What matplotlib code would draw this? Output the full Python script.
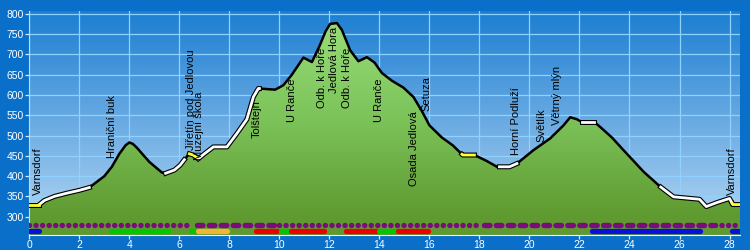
import matplotlib
matplotlib.use("Agg")
import matplotlib.pyplot as plt
import numpy as np
from matplotlib.colors import LinearSegmentedColormap

# elevation profile (km, m)
km = [0.0, 0.4, 0.6, 1.0, 1.5, 2.0, 2.4, 3.0, 3.3, 3.6, 3.85, 4.0, 4.15, 4.3, 4.8, 5.3, 5.45,
      5.8, 6.03, 6.23, 6.4, 6.55, 6.76, 7.0, 7.36, 7.9, 8.3, 8.7, 8.96, 9.16, 9.83,
      10.16, 10.5, 10.96, 11.3, 11.6, 11.85, 12.03, 12.3, 12.5, 12.83, 13.16, 13.5, 13.8,
      14.1, 14.5, 14.96, 15.36, 15.7, 16.0, 16.5, 16.93, 17.33, 17.8, 18.3, 18.7,
      19.2, 19.5, 20.16, 20.83, 21.36, 21.63, 21.9, 22.1, 22.6, 22.83, 23.3, 23.76,
      24.2, 24.56, 25.23, 25.76, 26.8, 27.07, 27.5, 28.0, 28.13, 28.42]
elev = [330, 330, 340, 350, 358, 365, 372, 400, 423, 455, 476, 483, 479, 470, 435, 409, 407,
        415, 427, 443, 455, 452, 443, 455, 472, 472, 505, 540, 595, 616, 613,
        624, 650, 692, 681, 720, 757, 775, 777, 760, 710, 683, 693, 680,
        654, 635, 618, 595, 560, 525, 495, 476, 452, 452, 437, 423,
        423, 431, 464, 493, 525, 545, 540, 533, 533, 521, 495, 464,
        435, 411, 374, 349, 343, 325, 335, 345, 330, 330]

white_parts = [(0.4, 2.4), (5.45, 6.2), (6.76, 9.2), (18.8, 19.5), (22.1, 22.6), (25.25, 28.1)]
yellow_parts = [(0.0, 0.4), (6.4, 6.7), (17.3, 17.8), (28.1, 28.42)]

# waypoint labels: name, km, elevation of text start
places = ["Varnsdorf", "Hraniční buk", "Jiřetín pod Jedlovou", "Muzejní škola", "Tolštejn",
          "U Ranče", "Odb. k Hoře", "Jedlová Hora", "Odb. k Hoře", "U Ranče",
          "Osada Jedlová", "Šetuza", "Horní Podluží", "Světlík", "Větrný mlýn", "Varnsdorf"]
place_km = [0.35, 3.3, 6.47, 6.8, 9.1, 10.5, 11.7, 12.2, 12.7, 14.0, 15.4, 15.9, 19.45, 20.5, 21.1, 28.1]
place_elev = [353, 444, 464, 439, 494, 534, 567, 604, 567, 534, 375, 560, 452, 484, 525, 353]

# surface row (dotted / dashed purple)
surface_dots = [(0.0, 6.3), (10.0, 18.0), (27.4, 28.2)]
surface_dashes = [(6.7, 9.9), (18.2, 27.3)]

# trail marking row
marks = [(0.0, 0.4, "#0a10dc"), (3.25, 5.55, "#00c800"), (6.45, 6.7, "#00c800"),
         (6.75, 7.9, "#f2b431"), (9.05, 9.9, "#ee0000"), (10.05, 10.35, "#00c800"),
         (10.45, 11.8, "#ee0000"), (12.65, 13.9, "#ee0000"), (14.0, 14.7, "#00c800"),
         (14.75, 15.95, "#ee0000"), (22.5, 26.8, "#0a10dc"), (28.1, 28.42, "#0a10dc")]

XMAX = 28.42
YMIN, YMAX = 255, 808


def part(a, b):
    x = np.array(km)
    y = np.array(elev)
    inner = (x > a) & (x < b)
    xs = np.concatenate([[a], x[inner], [b]])
    return xs, np.interp(xs, x, y)


fig = plt.figure(figsize=(7.5, 2.5), dpi=100, facecolor="#0a6fc8")
ax = fig.add_axes([0.0391, 0.06, 0.9476, 0.898])
ax.set_xlim(0, XMAX)
ax.set_ylim(YMIN, YMAX)

sky = LinearSegmentedColormap.from_list("sky", ["#b8d8f3", "#1c7ed2"])
ax.imshow(np.linspace(0, 1, 200)[:, None], cmap=sky, origin="lower", aspect="auto",
          extent=[0, XMAX, YMIN, YMAX], zorder=0)

ground = LinearSegmentedColormap.from_list("ground", ["#5f9a30", "#7cc35a", "#98dc78"])
poly = ax.fill_between(km, elev, YMIN, color="none", zorder=1)
g = np.clip((np.linspace(YMIN, YMAX, 300) - 300) / 480, 0, 1)
img = ax.imshow(g[:, None], cmap=ground, origin="lower", aspect="auto",
                extent=[0, XMAX, YMIN, YMAX], zorder=1)
img.set_clip_path(poly.get_paths()[0], transform=ax.transData)

ax.plot(km, elev, color="black", lw=1.8, zorder=3, solid_joinstyle="round")
for a, b in white_parts:
    xs, ys = part(a, b)
    ax.plot(xs, ys, color="black", lw=3.6, zorder=3, solid_joinstyle="round")
    ax.plot(xs, ys, color="white", lw=2.0, zorder=4, solid_joinstyle="round")
for a, b in yellow_parts:
    xs, ys = part(a, b)
    ax.plot(xs, ys, color="black", lw=3.6, zorder=3)
    ax.plot(xs, ys, color="#ffff33", lw=2.0, zorder=4)

for a, b in surface_dots:
    ax.plot([a, b], [279, 279], color="#7a0c7c", lw=3.9, linestyle=(0, (0.01, 1.2)),
            dash_capstyle="round", zorder=5)
for a, b in surface_dashes:
    ax.plot([a, b], [279, 279], color="#7a0c7c", lw=3.9, linestyle=(0, (1.0, 1.2)),
            dash_capstyle="round", zorder=5)
for a, b, c in marks:
    ax.plot([a, b], [265, 265], color=c, lw=3.8, solid_capstyle="round", zorder=5)

for name, x, y in zip(places, place_km, place_elev):
    ax.text(x, y, name, rotation=90, ha="center", va="bottom", fontsize=8,
            family="Liberation Sans", color="black", zorder=6)

ax.set_xticks(range(0, 29, 2))
ax.set_yticks(range(300, 801, 50))
ax.set_axisbelow(True)
ax.grid(color="#90d2ff", lw=0.9)
ax.tick_params(colors="#d0ecff", labelcolor="white", labelsize=7.5, length=3, width=0.9)
for lab in ax.get_xticklabels() + ax.get_yticklabels():
    lab.set_family("Liberation Sans")
ax.tick_params(axis="x", pad=0.5)
ax.tick_params(axis="y", pad=1)
for s in ["top", "right"]:
    ax.spines[s].set_visible(False)
ax.spines["left"].set_color("#b0e0ff")
ax.spines["bottom"].set_color("white")

fig.savefig("out.png", dpi=100, facecolor=fig.get_facecolor())
